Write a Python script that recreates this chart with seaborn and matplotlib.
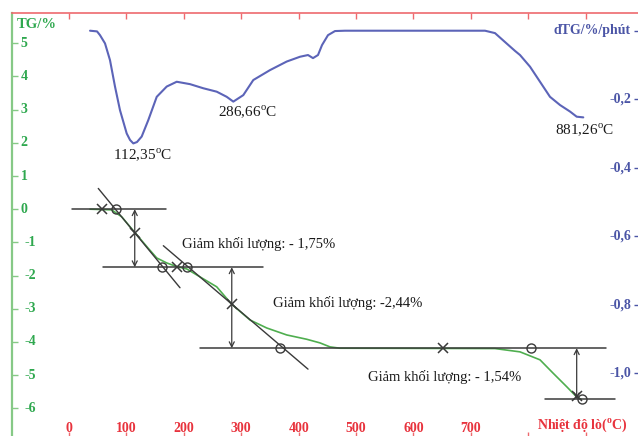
import numpy as np
import matplotlib
matplotlib.use("Agg")
import matplotlib.pyplot as plt
import seaborn as sns

# ---- TG curve: mass change (%) vs furnace temperature (degC)
tg_temp = [36.6, 74.4, 91.8, 115.0, 137.6, 152.8, 170.2, 187.6, 205.0, 228.2,
           257.3, 283.1, 315.3, 344.4, 379.2, 414.0, 437.2, 454.6, 472.0, 742.0,
           785.6, 820.4, 843.1, 866.9, 884.3, 892.0]
tg_value = [0.0, -0.02, -0.23, -0.71, -1.17, -1.47, -1.62, -1.73, -1.80, -2.04,
            -2.34, -2.86, -3.34, -3.58, -3.79, -3.92, -4.03, -4.15, -4.19, -4.20,
            -4.30, -4.54, -4.94, -5.35, -5.66, -5.73]

# ---- dTG curve (%/min) vs furnace temperature (degC)
dtg_temp = [36.6, 48.8, 54.0, 62.7, 71.4, 80.1, 88.8, 100.5, 106.3, 112.0,
            118.4, 126.6, 138.1, 152.8, 170.2, 187.6, 210.8, 233.9, 257.3, 274.7,
            286.2, 303.6, 321.0, 350.1, 379.2, 402.4, 416.3, 425.0, 433.7, 440.7,
            451.1, 463.3, 480.7, 724.6, 742.0, 759.4, 776.9, 785.6, 803.0, 820.4,
            837.8, 855.3, 872.7, 884.3, 895.8]
dtg_value = [0.0, -0.002, -0.013, -0.037, -0.086, -0.163, -0.232, -0.300, -0.319, -0.329,
             -0.325, -0.309, -0.261, -0.193, -0.163, -0.149, -0.156, -0.168, -0.178, -0.193,
             -0.207, -0.188, -0.144, -0.115, -0.090, -0.076, -0.071, -0.080, -0.071, -0.042,
             -0.013, -0.001, 0.0, 0.0, -0.007, -0.033, -0.059, -0.071, -0.105, -0.149,
             -0.193, -0.217, -0.236, -0.251, -0.253]

# ---- DTG peak temperatures
peak_temps = [112.35, 286.66, 881.26]
peak_labels = ["112,35", "286,66", "881,26"]

# ---- mass-loss steps (%)
step_losses = [1.75, 2.44, 1.54]
step_texts = ["Giảm khối lượng: - 1,75%", "Giảm khối lượng: -2,44%", "Giảm khối lượng: - 1,54%"]
baseline_spans = [(4.7, 168.9), (59.7, 337.4), (228.0, 935.0), (829.0, 951.0)]
arrow_temps = [114.5, 283.5, 884.3]

# tangents through the inflection points
inflect_temp = [114.5, 283.5]
inflect_tg = [-0.71, -2.86]
tangent_slope = [-0.02103, -0.01476]
tangent_spans = [(51.0, 193.3), (164.3, 416.3)]

# onset / endset markers
cross_temp = [57.0, 114.5, 188.0, 283.5, 652.0, 884.0]
cross_tg = [0.0, -0.71, -1.75, -2.86, -4.19, -5.62]
circle_temp = [82.0, 161.5, 205.0, 367.5, 805.0, 893.0]
circle_tg = [0.0, -1.75, -1.75, -4.19, -4.19, -5.73]

# ---- axis ticks
x_ticks = [0, 100, 200, 300, 400, 500, 600, 700, 800, 900]
x_labels = ["0", "100", "200", "300", "400", "500", "600", "700"]
tg_ticks = [5, 4, 3, 2, 1, 0, -1, -2, -3, -4, -5, -6]
dtg_ticks = [0.0, -0.2, -0.4, -0.6, -0.8, -1.0]
dtg_labels = ["dTG/%/phút", "-0,2", "-0,4", "-0,6", "-0,8", "-1,0"]

# ---- style
sns.set_style("white")
plt.rcParams["font.family"] = ["Liberation Serif", "DejaVu Serif"]
plt.rcParams["mathtext.fontset"] = "custom"
plt.rcParams["mathtext.rm"] = "Liberation Serif"
plt.rcParams["mathtext.bf"] = "Liberation Serif:bold"

GREEN_SPINE = "#86c986"
GREEN_TXT = "#2fa84f"
TG_LINE = "#4fae4f"
BLUE_LINE = "#5c64b8"
BLUE_TXT = "#4b55a6"
RED_SPINE = "#ee6a6e"
RED_TXT = "#e8333d"
INK = "#3a3a3a"

fig = plt.figure(figsize=(6.38, 4.36), dpi=100)
ax = fig.add_axes([12 / 638, -2 / 436, 626 / 638, 425 / 436])
ax2 = ax.twinx()

sns.lineplot(x=tg_temp, y=tg_value, ax=ax, color=TG_LINE, linewidth=1.2)
sns.lineplot(x=dtg_temp, y=dtg_value, ax=ax2, color=BLUE_LINE, linewidth=1.5)

# step levels derived from the stated losses
levels = np.concatenate([[0.0], -np.cumsum(step_losses)])

for lvl, (t0, t1) in zip(levels, baseline_spans):
    ax.plot([t0, t1], [lvl, lvl], color=INK, lw=1.1)

for t0, g0, k, (a, b) in zip(inflect_temp, inflect_tg, tangent_slope, tangent_spans):
    tt = np.array([a, b])
    ax.plot(tt, g0 + k * (tt - t0), color=INK, lw=1.0)

for i, t in enumerate(arrow_temps):
    ax.annotate("", xy=(t, levels[i + 1]), xytext=(t, levels[i]),
                arrowprops=dict(arrowstyle="<->", color=INK, lw=0.9,
                                mutation_scale=9, shrinkA=0, shrinkB=0))

ax.plot(cross_temp, cross_tg, ls="none", marker="x", ms=7.5, mew=1.1, color=INK)
ax.plot(circle_temp, circle_tg, ls="none", marker="o", ms=6.5, mew=1.0,
        mfc="none", mec=INK)

loss_text_pos = [(197, -1.04), (355, -2.83), (521, -5.06)]
for (tx, ty), s in zip(loss_text_pos, step_texts):
    ax.text(tx, ty, s, ha="left", va="center", fontsize=10.5, color="#1a1a1a")

peak_offsets = [(9, -12), (14, -11), (10, -15)]
for t, lbl, (dx, dy) in zip(peak_temps, peak_labels, peak_offsets):
    v = np.interp(t, dtg_temp, dtg_value)
    ax2.annotate(lbl + r"$^{\mathrm{o}}$C", xy=(t, v), xytext=(dx, dy),
                 textcoords="offset pixels", ha="center", va="center",
                 fontsize=11, color="#1a1a1a")

# ---- axes
ax.set_xlim(-99.3, 991.1)
ax.set_ylim(-6.896, 5.913)
ax2.set_ylim(-1.189, 0.0517)

ax.set_xticks(x_ticks)
ax.set_yticks(tg_ticks)
ax2.set_yticks(dtg_ticks)
ax.set_xlabel("")
ax.set_ylabel("")
ax2.set_ylabel("")

ax.tick_params(axis="x", direction="in", top=True, bottom=True, length=4.5,
               width=1, color=RED_SPINE, labelbottom=False, labeltop=False)
ax.tick_params(axis="y", direction="in", left=True, right=False, length=4.3,
               width=1, color=GREEN_SPINE, labelleft=False)
ax2.tick_params(axis="y", direction="in", right=True, left=False, length=3,
                width=1, color=BLUE_TXT, labelright=False)

for name, sp in ax.spines.items():
    sp.set_visible(name in ("left", "top"))
ax.spines["left"].set_color(GREEN_SPINE)
ax.spines["left"].set_linewidth(1.6)
ax.spines["top"].set_color(RED_SPINE)
ax.spines["top"].set_linewidth(1.2)
for sp in ax2.spines.values():
    sp.set_visible(False)

xt = ax.get_xaxis_transform()
for t, s in zip(x_ticks, x_labels):
    ax.text(t, 0.0224, s, transform=xt, ha="center", va="center",
            fontsize=10, fontweight="bold", color=RED_TXT)
ax.text(815, 0.030, r"Nhiệt độ lò($^{\mathbf{o}}$C)", transform=xt, ha="left",
        va="center", fontsize=10, fontweight="bold", color=RED_TXT)

yt = ax.get_yaxis_transform()
for v in tg_ticks:
    ax.text(0.0136 if v >= 0 else 0.0192, v, str(v), transform=yt, ha="left",
            va="center", fontsize=10, fontweight="bold", color=GREEN_TXT)
ax.text(0.008, 0.9718, "TG/%", transform=ax.transAxes, ha="left", va="center",
        fontsize=10.5, fontweight="bold", color=GREEN_TXT)

yt2 = ax2.get_yaxis_transform()
for v, s in zip(dtg_ticks, dtg_labels):
    ax2.text(0.9888, v, s, transform=yt2, ha="right", va="center",
             fontsize=10, fontweight="bold", color=BLUE_TXT)

fig.savefig("out.png", dpi=100)
